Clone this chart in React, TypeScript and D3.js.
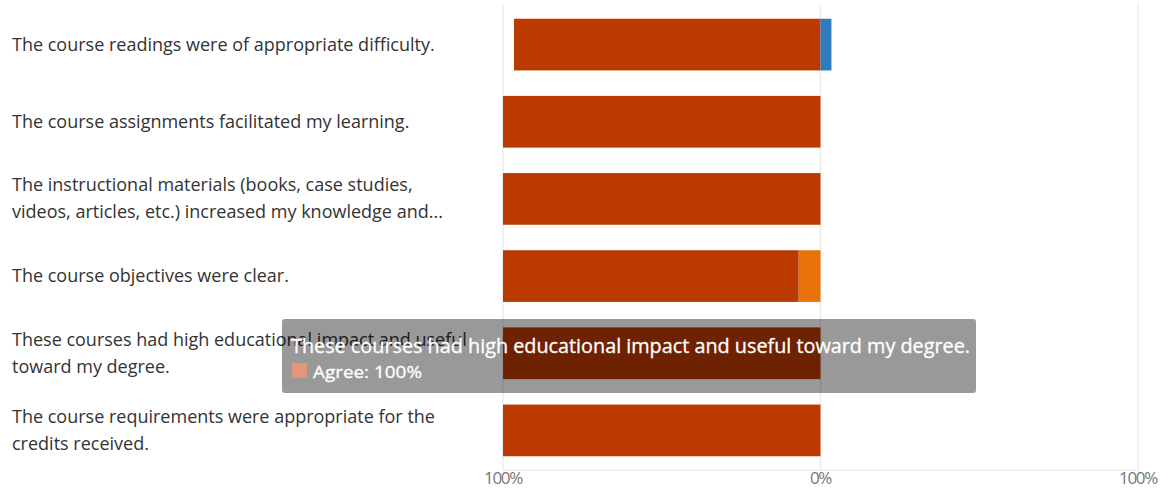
import * as d3 from "d3";
import { useEffect, useRef } from "react";

const questions = [
  "The course readings were of appropriate difficulty.",
  "The course assignments facilitated my learning.",
  "The instructional materials (books, case studies, videos, articles, etc.) increased my knowledge and skills.",
  "The course objectives were clear.",
  "These courses had high educational impact and useful toward my degree.",
  "The course requirements were appropriate for the credits received.",
];

const labelLines = [
  ["The course readings were of appropriate difficulty."],
  ["The course assignments facilitated my learning."],
  ["The instructional materials (books, case studies,", "videos, articles, etc.) increased my knowledge and..."],
  ["The course objectives were clear."],
  ["These courses had high educational impact and useful", "toward my degree."],
  ["The course requirements were appropriate for the", "credits received."],
];

// percentages per response
const agree = [96.55, 100, 100, 93.1, 100, 100];
const somewhatAgree = [0, 0, 0, 6.9, 0, 0];
const disagree = [3.45, 0, 0, 0, 0, 0];

const tickValues = [-100, 0, 100];
const tickLabels = ["100%", "0%", "100%"];

const W = 1169;
const H = 489;

export default function App() {
  const ref = useRef<SVGSVGElement | null>(null);

  useEffect(() => {
    if (!ref.current) return;
    const svg = d3.select(ref.current);
    svg.selectAll("*").remove();

    const x = d3.scaleLinear().domain([-100, 100]).range([503, 1138]);
    const y = d3
      .scaleBand<string>()
      .domain(questions)
      .range([6, 469])
      .paddingInner(0.33)
      .paddingOuter(0.165);

    // grid
    svg
      .append("g")
      .selectAll("line")
      .data(tickValues)
      .enter()
      .append("line")
      .attr("x1", (d) => x(d))
      .attr("x2", (d) => x(d))
      .attr("y1", 4)
      .attr("y2", 470)
      .attr("stroke", "#ececec")
      .attr("stroke-width", 1.5);

    svg
      .append("line")
      .attr("x1", x(-100))
      .attr("x2", x(100))
      .attr("y1", 470)
      .attr("y2", 470)
      .attr("stroke", "#ececec")
      .attr("stroke-width", 1.5);

    svg
      .append("g")
      .selectAll("text")
      .data(tickValues)
      .enter()
      .append("text")
      .attr("x", (d) => x(d))
      .attr("y", 484)
      .attr("text-anchor", "middle")
      .attr("font-family", "Open Sans, sans-serif")
      .attr("font-size", 17)
      .attr("fill", "#777")
      .attr("letter-spacing", -1.3)
      .text((d, i) => tickLabels[i]);

    // bars: left side stacks outward from 0 (somewhat agree, then agree); right side disagree
    const segs: { q: string; x0: number; x1: number; color: string }[] = [];
    questions.forEach((q, i) => {
      segs.push({ q, x0: -somewhatAgree[i], x1: 0, color: "#e8710a" });
      segs.push({ q, x0: -somewhatAgree[i] - agree[i], x1: -somewhatAgree[i], color: "#ba3a02" });
      segs.push({ q, x0: 0, x1: disagree[i], color: "#2e7bbd" });
    });

    svg
      .append("g")
      .selectAll("rect")
      .data(segs.filter((s) => s.x1 - s.x0 > 0))
      .enter()
      .append("rect")
      .attr("x", (d) => x(d.x0))
      .attr("width", (d) => x(d.x1) - x(d.x0))
      .attr("y", (d) => y(d.q)!)
      .attr("height", y.bandwidth())
      .attr("fill", (d) => d.color);

    // labels
    const lab = svg
      .append("g")
      .selectAll("text")
      .data(questions)
      .enter()
      .append("text")
      .attr("font-family", "Open Sans, sans-serif")
      .attr("font-size", 18)
      .attr("fill", "#333");
    lab.each(function (q, i) {
      const lines = labelLines[i];
      const cy = y(q)! + y.bandwidth() / 2;
      const t = d3.select(this);
      lines.forEach((ln, j) => {
        t.append("tspan")
          .attr("x", 12)
          .attr("y", cy + (j - (lines.length - 1) / 2) * 27 + 6)
          .text(ln);
      });
    });

    // tooltip
    const tip = svg.append("g");
    tip
      .append("rect")
      .attr("x", 282)
      .attr("y", 319)
      .attr("width", 694)
      .attr("height", 74)
      .attr("rx", 3)
      .attr("fill", "rgba(0,0,0,0.4)");
    tip
      .append("text")
      .attr("x", 291)
      .attr("y", 353)
      .attr("font-family", "Open Sans, sans-serif")
      .attr("font-size", 20)
      .attr("fill", "#fff")
      .attr("stroke", "#fff")
      .attr("stroke-width", 0.3)
      .attr("textLength", 679)
      .attr("lengthAdjust", "spacingAndGlyphs")
      .text(questions[4]);
    tip
      .append("rect")
      .attr("x", 292)
      .attr("y", 363)
      .attr("width", 15)
      .attr("height", 15)
      .attr("fill", "#e3967a");
    tip
      .append("text")
      .attr("x", 313)
      .attr("y", 378)
      .attr("font-family", "Open Sans, sans-serif")
      .attr("font-size", 17)
      .attr("fill", "#fff")
      .attr("stroke", "#fff")
      .attr("stroke-width", 0.3)
      .attr("textLength", 109)
      .attr("lengthAdjust", "spacingAndGlyphs")
      .text(`Agree: ${agree[4]}%`);
  }, []);

  return (
    <div style={{ position: "absolute", left: 0, top: 0, background: "#fff" }}>
      <svg ref={ref} width={W} height={H} style={{ display: "block" }} />
    </div>
  );
}
